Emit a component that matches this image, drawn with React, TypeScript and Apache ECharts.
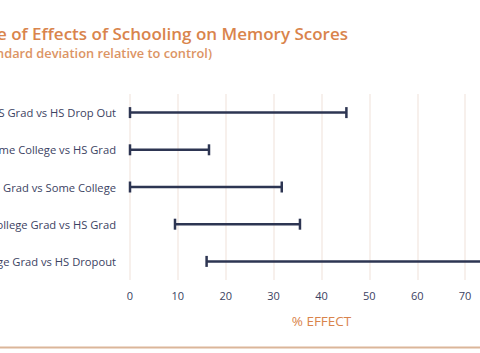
import React, { useEffect, useRef } from "react";
import * as echarts from "echarts";

const categories = [
  "HS Grad vs HS Drop Out",
  "Some College vs HS Grad",
  "College Grad vs Some College",
  "College Grad vs HS Grad",
  "College Grad vs HS Dropout",
];
const lowValues = [0, 0, 0, 9.4, 16];
const highValues = [45.2, 16.5, 31.7, 35.5, 78];
const xTicks = { min: 0, max: 80, interval: 10 };
const titleText = "Size of Effects of Schooling on Memory Scores";
const subtitleText = "(in standard deviation relative to control)";
const axisNameText = "% EFFECT";

const NAVY = "#2d3552";
const ORANGE = "#d9844c";
const FONT = "'Open Sans', Lato, sans-serif";
const OFFSET = 110;

export default function App() {
  const ref = useRef<HTMLDivElement>(null);
  useEffect(() => {
    if (!ref.current) return;
    const chart = echarts.init(ref.current, undefined, { renderer: "svg" });
    const data = categories.map((_, i) => [i, lowValues[i], highValues[i]]);
    chart.setOption({
      animation: false,
      backgroundColor: "#ffffff",
      textStyle: { fontFamily: FONT },
      grid: { left: 130 + OFFSET, right: 17, top: 94, bottom: 73, containLabel: false },
      xAxis: {
        type: "value",
        min: xTicks.min,
        max: xTicks.max,
        interval: xTicks.interval,
        axisLine: { show: false },
        axisTick: { show: false },
        splitLine: { show: true, lineStyle: { color: "#f4ebe6", width: 1.5 } },
        axisLabel: { color: "#3b4262", fontSize: 11, margin: 10, fontFamily: FONT },
        name: axisNameText,
        nameLocation: "middle",
        nameGap: 34,
        nameTextStyle: { color: ORANGE, fontSize: 13.5, fontFamily: FONT },
      },
      yAxis: {
        type: "category",
        data: categories,
        inverse: true,
        axisLine: { show: false },
        axisTick: { show: false },
        splitLine: { show: false },
        axisLabel: { color: "#3b4262", fontSize: 11.2, margin: 14, fontFamily: FONT },
      },
      series: [
        {
          type: "custom",
          data,
          encode: { x: [1, 2], y: 0 },
          renderItem: (params: any, api: any) => {
            const c = api.value(0);
            const p0 = api.coord([api.value(1), c]);
            const p1 = api.coord([api.value(2), c]);
            const h = 5.5;
            const style = { stroke: NAVY, lineWidth: 2.5 };
            return {
              type: "group",
              children: [
                { type: "line", shape: { x1: p0[0], y1: p0[1], x2: p1[0], y2: p1[1] }, style },
                { type: "line", shape: { x1: p0[0], y1: p0[1] - h, x2: p0[0], y2: p0[1] + h }, style },
                { type: "line", shape: { x1: p1[0], y1: p1[1] - h, x2: p1[0], y2: p1[1] + h }, style },
              ],
            };
          },
        },
      ],
      graphic: [
        {
          type: "text",
          x: 348 + OFFSET,
          y: 33,
          style: {
            text: titleText,
            align: "right",
            verticalAlign: "middle",
            fill: ORANGE,
            font: `600 17px ${FONT}`,
          },
        },
        {
          type: "text",
          x: 212 + OFFSET,
          y: 53,
          style: {
            text: subtitleText,
            align: "right",
            verticalAlign: "middle",
            fill: "#dc9464",
            font: `600 12.8px ${FONT}`,
          },
        },
        {
          type: "line",
          shape: { x1: 0, y1: 347.5, x2: 800, y2: 347.5 },
          style: { stroke: "#dbb699", lineWidth: 2 },
        },
      ],
    });
    return () => chart.dispose();
  }, []);
  return (
    <div style={{ position: "fixed", left: 0, top: 0, width: 480, height: 353, overflow: "hidden", background: "#fff" }}>
      <div ref={ref} style={{ position: "absolute", left: -OFFSET, top: 0, width: 640, height: 353 }} />
    </div>
  );
}
